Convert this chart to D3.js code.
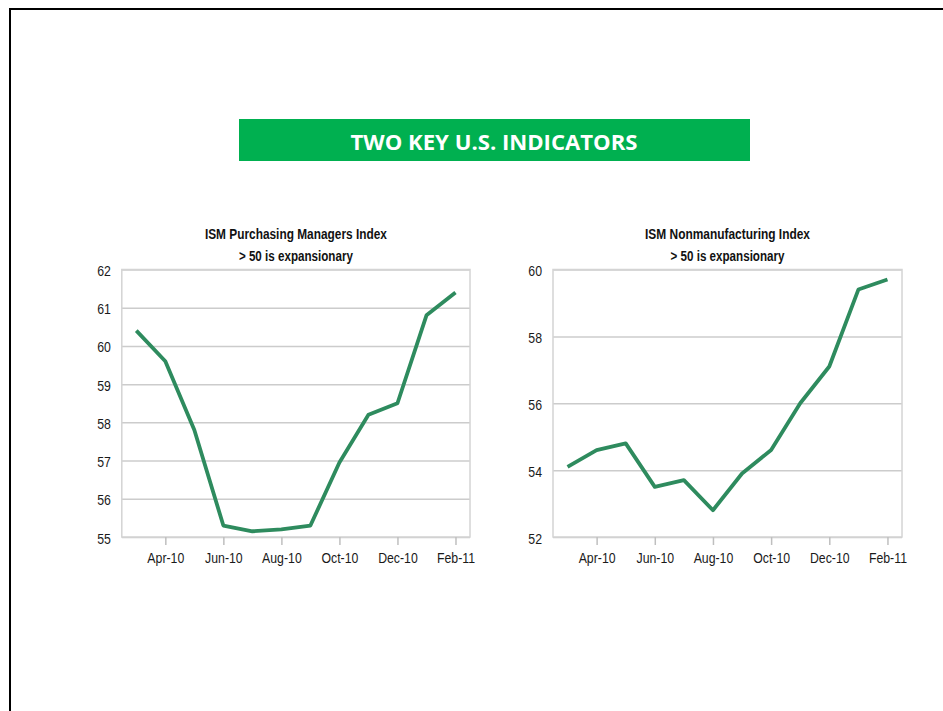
<!DOCTYPE html>
<html>
<head>
<meta charset="utf-8">
<script src="https://cdn.jsdelivr.net/npm/d3@7"></script>
<style>
  body { margin: 0; background: #fff; }
  svg { display: block; }
</style>
</head>
<body>
<svg id="svg1"></svg>
<script>
const width = 943;
const height = 711;

// monthly data, Mar-10 .. Feb-11
const months = ["Mar-10", "Apr-10", "May-10", "Jun-10", "Jul-10", "Aug-10",
                "Sep-10", "Oct-10", "Nov-10", "Dec-10", "Jan-11", "Feb-11"];
const tickMonths = ["Apr-10", "Jun-10", "Aug-10", "Oct-10", "Dec-10", "Feb-11"];

const pmiValues = [60.4, 59.6, 57.8, 55.3, 55.15, 55.2, 55.3, 56.95, 58.2, 58.5, 60.8, 61.4];
const nmiValues = [54.1, 54.6, 54.8, 53.5, 53.7, 52.8, 53.9, 54.6, 56.0, 57.1, 59.4, 59.7];

const pmiTicks = [55, 56, 57, 58, 59, 60, 61, 62];
const nmiTicks = [52, 54, 56, 58, 60];

const bannerText = "TWO KEY U.S. INDICATORS";
const subtitle = "> 50 is expansionary";

const narrow = "'Liberation Sans Narrow', 'Arial Narrow', 'Liberation Sans', Arial, sans-serif";
const lineColor = "#2e8b5e";
const gridColor = "#cccccc";

// squeeze text horizontally (no narrow font installed)
function squeeze(sel, k) {
  sel.each(function() {
    const w = this.getComputedTextLength();
    d3.select(this)
        .attr("textLength", w * k)
        .attr("lengthAdjust", "spacingAndGlyphs");
  });
}

const svg = d3.select("#svg1")
    .attr("width", width)
    .attr("height", height)
    .attr("viewBox", [0, 0, width, height]);

// slide frame (top + left edges)
svg.append("path")
    .attr("d", `M10,${height} V9 H${width}`)
    .attr("fill", "none")
    .attr("stroke", "#000")
    .attr("stroke-width", 2);

// green banner
svg.append("rect")
    .attr("x", 239).attr("y", 119)
    .attr("width", 511).attr("height", 42)
    .attr("fill", "#00b050");
svg.append("text")
    .attr("x", 494).attr("y", 150)
    .attr("text-anchor", "middle")
    .attr("textLength", 287)
    .attr("lengthAdjust", "spacingAndGlyphs")
    .style("font", "bold 22px 'Open Sans', sans-serif")
    .attr("fill", "#fff")
    .text(bannerText);

const panels = [
  { title: "ISM Purchasing Managers Index", titleW: 182, values: pmiValues, ticks: pmiTicks,
    x0: 121.8, x1: 470, domain: [55, 62] },
  { title: "ISM Nonmanufacturing Index", titleW: 165, values: nmiValues, ticks: nmiTicks,
    x0: 553, x1: 902, domain: [52, 60] }
];

const plotTop = 269.5, plotBottom = 537;

panels.forEach(p => {
  const g = svg.append("g");
  const x = d3.scalePoint().domain(months).range([p.x0, p.x1]).padding(0.5);
  const y = d3.scaleLinear().domain(p.domain).range([plotBottom, plotTop]);
  const cx = (p.x0 + p.x1) / 2;

  // titles
  g.append("text")
      .attr("x", cx).attr("y", 239)
      .attr("text-anchor", "middle")
      .attr("textLength", p.titleW)
      .attr("lengthAdjust", "spacingAndGlyphs")
      .style("font", `bold 14.5px ${narrow}`)
      .attr("fill", "#111")
      .text(p.title);
  g.append("text")
      .attr("x", cx).attr("y", 261)
      .attr("text-anchor", "middle")
      .attr("textLength", 114)
      .attr("lengthAdjust", "spacingAndGlyphs")
      .style("font", `bold 14.5px ${narrow}`)
      .attr("fill", "#111")
      .text(subtitle);

  // gridlines
  g.append("g")
      .attr("transform", `translate(${p.x0},0)`)
      .call(d3.axisLeft(y).tickValues(p.ticks).tickSize(-(p.x1 - p.x0)).tickFormat(""))
      .call(a => a.select(".domain").remove())
      .call(a => a.selectAll("line").attr("stroke", gridColor).attr("stroke-width", 1.5));

  // plot frame
  g.append("rect")
      .attr("x", p.x0).attr("y", plotTop)
      .attr("width", p.x1 - p.x0).attr("height", plotBottom - plotTop)
      .attr("fill", "none")
      .attr("stroke", "#d4d4d4")
      .attr("stroke-width", 1.5);

  // y labels
  g.append("g")
      .attr("transform", `translate(${p.x0},0)`)
      .call(d3.axisLeft(y).tickValues(p.ticks).tickSize(0).tickPadding(11).tickFormat(d3.format("d")))
      .call(a => a.select(".domain").remove())
      .call(a => a.selectAll("text")
          .attr("dy", "0.4em")
          .style("font", `15px ${narrow}`)
          .attr("fill", "#1a1a1a")
          .call(squeeze, 0.82));

  // x axis
  g.append("g")
      .attr("transform", `translate(0,${plotBottom})`)
      .call(d3.axisBottom(x).tickValues(tickMonths).tickSize(8).tickPadding(7.5))
      .call(a => a.select(".domain").remove())
      .call(a => a.selectAll("line").attr("stroke", "#bfbfbf").attr("stroke-width", 1.5))
      .call(a => a.selectAll("text")
          .style("font", `15px ${narrow}`)
          .attr("fill", "#1a1a1a")
          .call(squeeze, 0.82));

  // series line
  const line = d3.line()
      .x((d, i) => x(months[i]))
      .y(d => y(d));
  g.append("path")
      .datum(p.values)
      .attr("d", line)
      .attr("fill", "none")
      .attr("stroke", lineColor)
      .attr("stroke-width", 3.8)
      .attr("stroke-linejoin", "round");
});
</script>
</body>
</html>
